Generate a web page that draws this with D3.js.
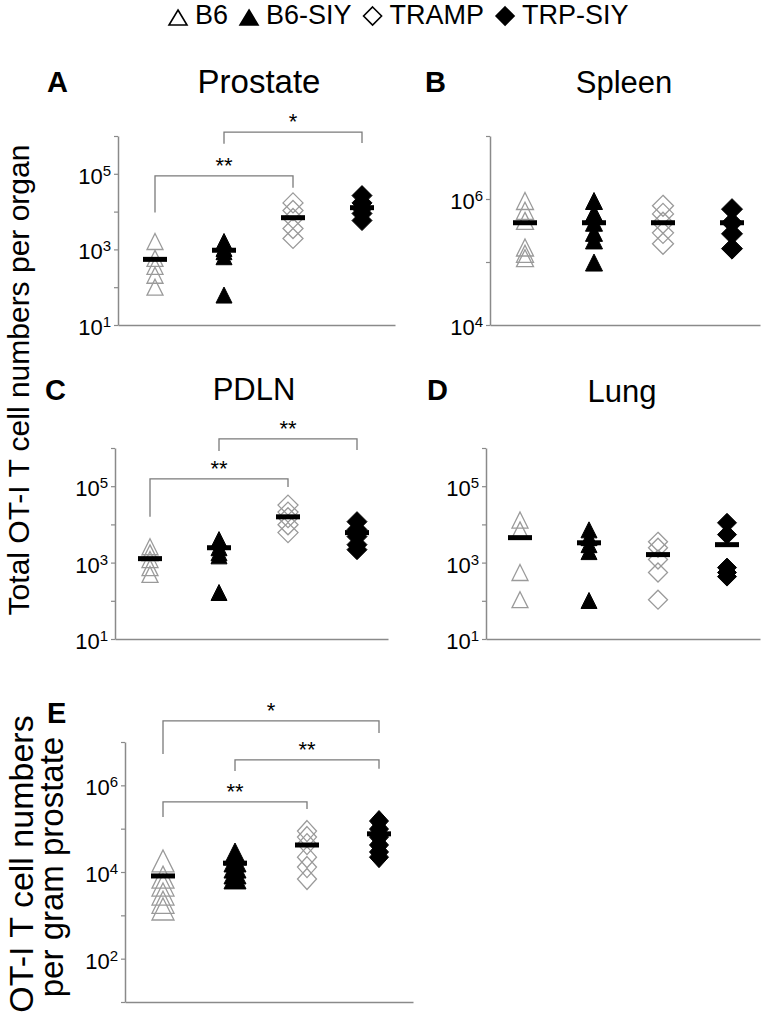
<!DOCTYPE html>
<html><head><meta charset="utf-8">
<script src="https://cdn.jsdelivr.net/npm/d3@7"></script>
<style>body{margin:0;background:#fff} svg{display:block} text{font-family:"Liberation Sans",Arial,Helvetica,sans-serif;fill:#000}</style>
</head><body><svg id="c" width="769" height="1024"></svg>
<script>
// ---------- data ----------
const groups = ["B6", "B6-SIY", "TRAMP", "TRP-SIY"];
const legendLabels = ["B6", "B6-SIY", "TRAMP", "TRP-SIY"];

// A: Prostate (total cells per organ)
const prostateB6     = [1620, 580, 357, 207, 100];
const prostateB6SIY  = [1620, 1060, 870, 640, 62];
const prostateTRAMP  = [17000, 10700, 6600, 3560, 1950];
const prostateTRPSIY = [26500, 17000, 12000, 8900, 5800];
const prostateMeans  = [545, 950, 6900, 12700];

// B: Spleen
const spleenB6     = [930000, 650000, 450000, 170000, 135000, 115000];
const spleenB6SIY  = [930000, 600000, 420000, 290000, 220000, 98000];
const spleenTRAMP  = [780000, 580000, 420000, 290000, 195000];
const spleenTRPSIY = [690000, 420000, 280000, 163000];
const spleenMeans  = [420000, 420000, 420000, 420000];

// C: PDLN
const pdlnB6     = [2600, 1800, 1200, 740, 490];
const pdlnB6SIY  = [4000, 2450, 1800, 1500, 165];
const pdlnTRAMP  = [32000, 21000, 15000, 9800, 6100];
const pdlnTRPSIY = [11800, 7300, 4800, 2950, 2180];
const pdlnMeans  = [1270, 2450, 15800, 6100];

// D: Lung
const lungB6     = [13000, 7200, 550, 107];
const lungB6SIY  = [7200, 4500, 2950, 1940, 102];
const lungTRAMP  = [3500, 2450, 1200, 550, 107];
const lungTRPSIY = [11000, 5400, 740, 550, 430];
const lungMeans  = [4500, 3300, 1620, 2950];

// E: per gram prostate
const perGramB6     = [18000, 7600, 5000, 3100, 2000, 1400];
const perGramB6SIY  = [26000, 18000, 13000, 9500, 7300];
const perGramTRAMP  = [88000, 64000, 44000, 22000, 13000, 6900];
const perGramTRPSIY = [150000, 98000, 64000, 42000, 29000, 22000];
const perGramMeans  = [8100, 16000, 42000, 76000];

// significance brackets: from/to group index, bar level and leg ends (data units)
const prostateSig = [
  {from: 0, to: 2, label: "**", bar: 88500, leftEnd: 9420, rightEnd: 42700},
  {from: 1, to: 3, label: "*",  bar: 1.27e6, leftEnd: 6.2e5, rightEnd: 6.5e5}
];
const pdlnSig = [
  {from: 0, to: 2, label: "**", bar: 156000, leftEnd: 15800, rightEnd: 96000},
  {from: 1, to: 3, label: "**", bar: 1.73e6, leftEnd: 8.4e5, rightEnd: 8.9e5}
];
const perGramSig = [
  {from: 0, to: 3, label: "*",  bar: 3.07e7, leftEnd: 5.3e6, rightEnd: 1.62e7},
  {from: 1, to: 3, label: "**", bar: 3.87e6, leftEnd: 2.15e6, rightEnd: 2.4e6},
  {from: 0, to: 2, label: "**", bar: 4.14e5, leftEnd: 1.86e5, rightEnd: 2.85e5}
];

// axis domains and labelled decades
const domainA = [1e1, 1e6], labelsA = [1e1, 1e3, 1e5];
const domainB = [1e4, 1e7], labelsB = [1e4, 1e6];
const domainE = [1e1, 1e7], labelsE = [1e2, 1e4, 1e6];

// ---------- layout / style ----------
const axisColor = "#8a8a8a";
const openColor = "#9a9a9a";
const bracketColor = "#7a7a7a";
const filled = [false, true, false, true];
const shapes = ["tri", "tri", "dia", "dia"];

const panels = [
  {letter: "A", title: "Prostate", x0: 118, x1: 395, yTop: 136, yBot: 325, domain: domainA, labeled: labelsA,
   data: [prostateB6, prostateB6SIY, prostateTRAMP, prostateTRPSIY], means: prostateMeans, sig: prostateSig,
   letterX: 47, letterY: 92, titleX: 259, titleY: 93, titleSize: 33, xr: [37, 244], tri: [16, 16], dia: [20, 20]},
  {letter: "B", title: "Spleen", x0: 490, x1: 760, yTop: 136, yBot: 325, domain: domainB, labeled: labelsB,
   data: [spleenB6, spleenB6SIY, spleenTRAMP, spleenTRPSIY], means: spleenMeans, sig: [],
   letterX: 425, letterY: 92, titleX: 624, titleY: 93, titleSize: 31, xr: [35, 242], tri: [17, 17], dia: [21, 21]},
  {letter: "C", title: "PDLN", x0: 115, x1: 388, yTop: 448, yBot: 639, domain: domainA, labeled: labelsA,
   data: [pdlnB6, pdlnB6SIY, pdlnTRAMP, pdlnTRPSIY], means: pdlnMeans, sig: pdlnSig,
   letterX: 45, letterY: 400, titleX: 254, titleY: 400, titleSize: 31, xr: [35, 242], tri: [16, 16], dia: [20, 20]},
  {letter: "D", title: "Lung", x0: 486, x1: 760, yTop: 448, yBot: 639, domain: domainA, labeled: labelsA,
   data: [lungB6, lungB6SIY, lungTRAMP, lungTRPSIY], means: lungMeans, sig: [],
   letterX: 427, letterY: 400, titleX: 622, titleY: 402, titleSize: 31, xr: [34, 241], tri: [16, 16], dia: [19, 19]},
  {letter: "E", title: "", x0: 125, x1: 413, yTop: 742, yBot: 1002, domain: domainE, labeled: labelsE,
   data: [perGramB6, perGramB6SIY, perGramTRAMP, perGramTRPSIY], means: perGramMeans, sig: perGramSig,
   letterX: 47, letterY: 723, titleX: 0, titleY: 0, titleSize: 31, xr: [38, 254], tri: [22, 22], dia: [19, 21]}
];

const svg = d3.select("#c");

function shapePath(kind, size) {
  const w = size[0], h = size[1];
  if (kind === "tri") return `M0,${-h / 2}L${w / 2},${h / 2}L${-w / 2},${h / 2}Z`;
  return `M0,${-h / 2}L${w / 2},0L0,${h / 2}L${-w / 2},0Z`;
}

function drawPanel(p) {
  const g = svg.append("g");
  const y = d3.scaleLog().domain(p.domain).range([p.yBot, p.yTop]);
  const x = d3.scalePoint().domain(groups).range([p.x0 + p.xr[0], p.x0 + p.xr[1]]);
  const e0 = Math.round(Math.log10(p.domain[0])), e1 = Math.round(Math.log10(p.domain[1]));
  const decades = d3.range(e0, e1 + 1).map(e => Math.pow(10, e));

  const ay = g.append("g").attr("transform", `translate(${p.x0},0)`)
    .call(d3.axisLeft(y).tickValues(decades).tickSize(4).tickSizeOuter(0).tickFormat(""));
  ay.select(".domain").attr("stroke", axisColor).attr("stroke-width", 1.5);
  ay.selectAll(".tick line").attr("stroke", axisColor).attr("stroke-width", 1.2);

  const xs = d3.scaleLinear().domain([0, 1]).range([p.x0, p.x1]);
  const ax = g.append("g").attr("transform", `translate(0,${p.yBot})`)
    .call(d3.axisBottom(xs).tickValues([]).tickSizeOuter(0));
  ax.select(".domain").attr("stroke", axisColor).attr("stroke-width", 1.5);

  // tick labels 10^n
  g.selectAll(".tl").data(p.labeled).join("text")
    .attr("class", "tl")
    .attr("x", p.x0 - 7).attr("y", d => y(d) + 10)
    .attr("text-anchor", "end").attr("font-size", 22)
    .each(function (d) {
      const t = d3.select(this);
      t.append("tspan").text("10");
      t.append("tspan").attr("font-size", 15).attr("dy", -8).text(Math.round(Math.log10(d)));
    });

  // panel letter & title
  g.append("text").attr("x", p.letterX).attr("y", p.letterY)
    .attr("font-size", 29).attr("font-weight", "bold").text(p.letter);
  if (p.title) {
    g.append("text").attr("x", p.titleX).attr("y", p.titleY)
      .attr("text-anchor", "middle").attr("font-size", p.titleSize).text(p.title);
  }

  // brackets
  p.sig.forEach(s => {
    const xa = x(groups[s.from]), xb = x(groups[s.to]);
    g.append("path")
      .attr("d", `M${xa},${y(s.leftEnd)}V${y(s.bar)}H${xb}V${y(s.rightEnd)}`)
      .attr("fill", "none").attr("stroke", bracketColor).attr("stroke-width", 1.3);
    g.append("text").attr("x", (xa + xb) / 2).attr("y", y(s.bar) - 3)
      .attr("text-anchor", "middle").attr("font-size", 22).text(s.label);
  });

  // points
  p.data.forEach((vals, gi) => {
    const size = shapes[gi] === "tri" ? p.tri : p.dia;
    g.append("g").selectAll("path").data(vals).join("path")
      .attr("d", shapePath(shapes[gi], size))
      .attr("transform", d => `translate(${x(groups[gi])},${y(d)})`)
      .attr("fill", filled[gi] ? "#000" : "none")
      .attr("stroke", filled[gi] ? "#000" : openColor)
      .attr("stroke-width", filled[gi] ? 1 : 1.3);
  });

  // mean bars
  g.append("g").selectAll("rect").data(p.means).join("rect")
    .attr("x", (d, i) => x(groups[i]) - 12).attr("y", d => y(d) - 2.5)
    .attr("width", 24).attr("height", 5).attr("fill", "#000");
}

panels.forEach(drawPanel);

// y-axis titles
svg.append("text").attr("transform", "translate(29,380) rotate(-90)")
  .attr("text-anchor", "middle").attr("font-size", 30)
  .text("Total OT-I T cell numbers per organ");
svg.append("text").attr("transform", "translate(33,864) rotate(-90)")
  .attr("text-anchor", "middle").attr("font-size", 34)
  .text("OT-I T cell numbers");
svg.append("text").attr("transform", "translate(63,867) rotate(-90)")
  .attr("text-anchor", "middle").attr("font-size", 33)
  .text("per gram prostate");

// legend
const leg = svg.append("g");
let cx = 169;
legendLabels.forEach((lab, i) => {
  leg.append("path")
    .attr("d", shapePath(shapes[i], [18, shapes[i] === "tri" ? 15 : 18]))
    .attr("transform", `translate(${cx + 9},${shapes[i] === "tri" ? 17.5 : 16})`)
    .attr("fill", filled[i] ? "#000" : "none").attr("stroke", "#000").attr("stroke-width", 1.6);
  const t = leg.append("text").attr("x", cx + 26).attr("y", 24).attr("font-size", 27).text(lab);
  cx = cx + 26 + t.node().getComputedTextLength() + 12;
});
</script>
</body></html>
